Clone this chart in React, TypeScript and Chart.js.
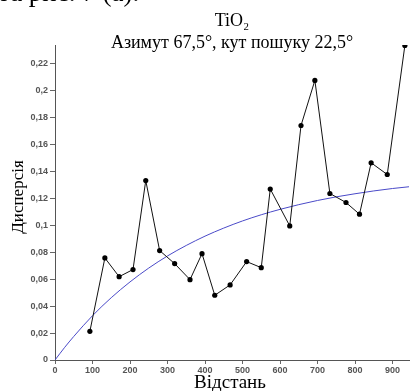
import React, { useEffect, useRef } from "react";
import { Chart, registerables } from "chart.js";

Chart.register(...registerables);

const distances = [93, 133, 171, 208, 242, 279, 319, 360, 392, 426, 467, 511, 550, 574, 626, 656, 693, 733, 776, 812, 843, 886, 933];
const dispersion = [0.0213, 0.0758, 0.0619, 0.0672, 0.1333, 0.0813, 0.0716, 0.0597, 0.079, 0.0481, 0.0558, 0.0731, 0.0686, 0.127, 0.0996, 0.1742, 0.2077, 0.1237, 0.117, 0.1083, 0.1465, 0.1378, 0.2337];

const modelDistances = [0, 25, 50, 100, 150, 200, 250, 300, 350, 400, 450, 500, 550, 600, 650, 700, 750, 800, 850, 900, 944];
const modelValues = [0, 0.0091, 0.0175, 0.0329, 0.0463, 0.058, 0.0683, 0.0773, 0.0851, 0.092, 0.098, 0.1033, 0.1079, 0.1119, 0.1154, 0.1185, 0.1212, 0.1235, 0.1256, 0.1274, 0.1287];

const xTicks = [0, 100, 200, 300, 400, 500, 600, 700, 800, 900];
const yTicks = [0, 0.02, 0.04, 0.06, 0.08, 0.1, 0.12, 0.14, 0.16, 0.18, 0.2, 0.22];

const titleText = "TiO₂";
const subtitleText = "Азимут 67,5°, кут пошуку 22,5°";
const xTitle = "Відстань";
const yTitle = "Дисперсія";
const topText = "та рис. 7 (а).";

const X_MAX = 944;
const Y_MAX = 0.234;

const serif = '"Liberation Serif", "Times New Roman", serif';

const textPlugin = {
  id: "textPlugin",
  afterDraw(chart: any) {
    const ctx = chart.ctx;
    const area = chart.chartArea;
    const cx = (area.left + area.right) / 2;
    ctx.save();
    ctx.fillStyle = "#000";
    ctx.textBaseline = "alphabetic";
    ctx.textAlign = "left";
    ctx.font = `27px ${serif}`;
    ctx.fillText(topText, -2, 1);
    ctx.textAlign = "center";
    ctx.font = `18px ${serif}`;
    ctx.fillText(titleText, cx, 26);
    ctx.fillText(subtitleText, cx, 48);
    ctx.font = `19px ${serif}`;
    ctx.fillText(xTitle, 230, 388);
    ctx.font = `17px ${serif}`;
    ctx.translate(23, 197);
    ctx.rotate(-Math.PI / 2);
    ctx.fillText(yTitle, 0, 0);
    ctx.restore();
  },
};

const fmt = (v: number) => Number(v.toFixed(2)).toString().replace(".", ",");

export default function App() {
  const ref = useRef<HTMLCanvasElement>(null);
  useEffect(() => {
    document.body.style.margin = "0";
    const canvas = ref.current!;
    const chart = new Chart(canvas, {
      type: "scatter",
      data: {
        datasets: [
          {
            data: distances.map((d, i) => ({ x: d, y: dispersion[i] })),
            showLine: true,
            borderColor: "#111",
            borderWidth: 1,
            backgroundColor: "#000",
            pointRadius: 2.6,
            pointBorderWidth: 0,
          },
          {
            data: modelDistances.map((d, i) => ({ x: d, y: modelValues[i] })),
            showLine: true,
            borderColor: "#4a4ac8",
            borderWidth: 1,
            pointRadius: 0,
            cubicInterpolationMode: "monotone",
          },
        ],
      },
      options: {
        responsive: false,
        animation: false,
        events: [],
        layout: { padding: { top: 45, left: 0, right: 0, bottom: 0 } },
        plugins: { legend: { display: false }, tooltip: { enabled: false }, title: { display: false } },
        scales: {
          x: {
            type: "linear",
            min: 0,
            max: X_MAX,
            afterFit: (s: any) => { s.height = 31; },
            afterBuildTicks: (s: any) => { s.ticks = xTicks.map((v) => ({ value: v })); },
            ticks: { color: "#555", font: { family: "Liberation Sans, Arial, sans-serif", size: 9, weight: "bold" }, padding: 1, maxRotation: 0, autoSkip: false, callback: (v: any) => String(v) },
            grid: { drawOnChartArea: false, drawTicks: true, tickLength: 4, color: "#666" },
            border: { display: true, color: "#555", width: 1 },
          },
          y: {
            type: "linear",
            min: 0,
            max: Y_MAX,
            afterFit: (s: any) => { s.width = 55; },
            afterBuildTicks: (s: any) => { s.ticks = yTicks.map((v) => ({ value: v })); },
            ticks: { color: "#555", font: { family: "Liberation Sans, Arial, sans-serif", size: 9, weight: "bold" }, padding: 2, autoSkip: false, callback: (v: any) => fmt(Number(v)) },
            grid: { drawOnChartArea: false, drawTicks: true, tickLength: 5, color: "#666" },
            border: { display: true, color: "#555", width: 1 },
          },
        },
      },
      plugins: [textPlugin],
    } as any);
    return () => chart.destroy();
  }, []);
  return <canvas ref={ref} width={413} height={391} style={{ display: "block" }} />;
}
